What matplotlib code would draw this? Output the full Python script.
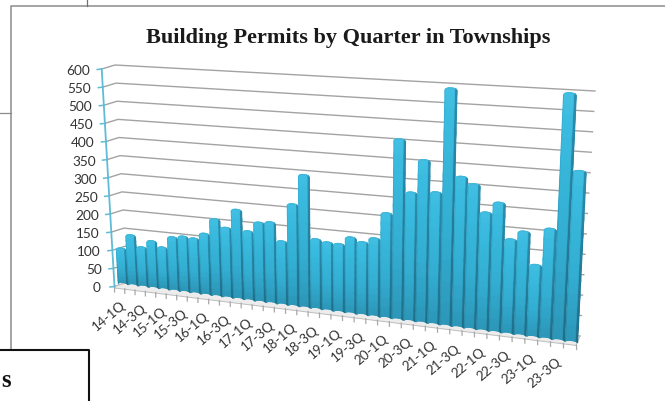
import numpy as np
import matplotlib
matplotlib.use("Agg")
import matplotlib.pyplot as plt
from matplotlib.colors import LinearSegmentedColormap

# ---- data ----
quarters = [f"{y}-{q}Q" for y in range(14, 24) for q in range(1, 5)]
permits = [100, 140, 110, 130, 116, 147, 152, 150, 166, 208,
           188, 239, 185, 211, 215, 168, 268, 347, 183, 178,
           177, 197, 188, 201, 268, 458, 326, 410, 332, 594,
           376, 360, 293, 320, 233, 255, 177, 268, 598, 413]
y_ticks = list(range(0, 601, 50))
title = "Building Permits by Quarter in Townships"

# ---- oblique-perspective scale of the chart ----
VMAX = 600.0
Q = 1.135
N = len(permits)

def s_of(t):
    return t / (t + (1 - t) * Q)

def lerp(a, b, f):
    return np.asarray(a) + (np.asarray(b) - np.asarray(a)) * f

# bar plane: base-left, top-left, base-right, top-right
BL, TL, BR, TR = (118, 284.5), (106, 67.5), (578, 344), (590.5, 94)

def bar_xy(t, v):
    s = np.asarray(s_of(t))
    f = np.asarray(v) / VMAX
    bx = BL[0] + (BR[0] - BL[0]) * s
    by = BL[1] + (BR[1] - BL[1]) * s
    tx = TL[0] + (TR[0] - TL[0]) * s
    ty = TL[1] + (TR[1] - TL[1]) * s
    return bx + (tx - bx) * f, by + (ty - by) * f

AX0, AX1 = (114.5, 287.5), (101.7, 70)      # front axis
WL0, WL1 = (127, 283.5), (115, 66)          # back wall, left
WR0, WR1 = (580, 337), (595, 92)            # back wall, right
FL, FR = (114.5, 287.5), (576.5, 345)       # floor front edge

fig = plt.figure(figsize=(6.65, 4.02), dpi=100)
ax = fig.add_axes([0, 0, 1, 1])
ax.set_xlim(0, 665)
ax.set_ylim(402, 0)
ax.axis("off")

# ---- surrounding page furniture ----
ax.plot([10.5, 10.5, 665], [350, 6.5, 6.5], color="#8c8c8c", lw=1.1, zorder=1)
ax.plot([87, 87], [0, 6.5], color="#707070", lw=0.9, zorder=1)
ax.plot([0, 10.5], [114, 114], color="#8c8c8c", lw=0.9, zorder=1)
ax.plot([0, 89, 89], [350.5, 350.5, 402], color="#111111", lw=1.5, zorder=1)
ax.text(1, 387, "s", family="Liberation Serif", weight="bold", fontsize=18,
        color="#111111", ha="left", va="baseline")

ax.text(348.5, 42.5, title, family="Liberation Serif", weight="bold", fontsize=16,
        color="#1a1a1a", ha="center", va="baseline")

# ---- gridlines and walls ----
for v in y_ticks:
    f = v / VMAX
    a, l, r = lerp(AX0, AX1, f), lerp(WL0, WL1, f), lerp(WR0, WR1, f)
    ax.plot([a[0], l[0], r[0]], [a[1], l[1], r[1]], color="#a3a3a3", lw=1.0,
            zorder=2, solid_joinstyle="round")
    ax.plot([a[0] - 4.5, a[0]], [a[1] + 0.5, a[1]], color="#5fbcd6", lw=1.1, zorder=3)
    ax.text(a[0] - 11.5 if v else a[0] - 14, a[1] + 1, str(v), family="Lato", fontsize=9.8,
            color="#333333", ha="right", va="center")
ax.plot([AX0[0], AX1[0]], [AX0[1], AX1[1]], color="#5fbcd6", lw=1.3, zorder=3)

# ---- floor ----
ax.fill([FL[0], WL0[0], WR0[0], FR[0], FR[0], FL[0]],
        [FL[1], WL0[1], WR0[1], FR[1], FR[1] + 1.5, FL[1] + 1.5],
        facecolor="#ececec", edgecolor="#bdbdbd", lw=0.7, zorder=2)

# ---- x ticks ----
for k in range(N + 1):
    s = s_of(k / N)
    p = lerp(FL, FR, s)
    ax.plot([p[0], p[0] + 0.1], [p[1] + 1, p[1] + 5.5], color="#a8a8a8", lw=0.9, zorder=2)

# ---- bars ----
cmap = LinearSegmentedColormap.from_list(
    "bar", ["#124e64", "#1f6f8a", "#2a8cac", "#33aed2", "#3abce0", "#6fd0ec"])
us = np.linspace(0, 1, 11)
HALF = 0.47
for i, val in enumerate(permits):
    t0 = (i + 0.5 - HALF) / N
    t1 = (i + 0.5 + HALF) / N
    ts = t0 + (t1 - t0) * us
    fv = np.linspace(0, 1, 12)
    X = np.zeros((len(fv), len(us)))
    Y = np.zeros_like(X)
    C = np.zeros_like(X)
    arch = np.sqrt(np.clip(1 - (2 * us - 1) ** 2, 0, 1))
    for j, f in enumerate(fv):
        x, y = bar_xy(ts, val * f)
        X[j] = x
        Y[j] = y + (1 - arch) * 2.2 * f - arch * 1.6 * (1 - f)
        vert = 0.6 + 0.4 * f
        for k, u in enumerate(us):
            if u > 0.8:
                across = 0.55
            elif u < 0.07:
                across = 0.82
            else:
                across = 1.0
            C[j, k] = np.clip((across * vert - 0.12) / 0.88, 0, 1) * 0.84
    ax.pcolormesh(X, Y, C, cmap=cmap, vmin=0, vmax=1, shading="gouraud", zorder=4 + i * 0.01)
    # rounded cap
    xc, yc = bar_xy(ts, val)
    cap_x = np.r_[xc, xc[::-1]]
    cap_y = np.r_[yc + (1 - arch) * 2.2 - arch * 0.3, (yc + (1 - arch) * 2.2 + arch * 0.9)[::-1]]
    ax.fill(cap_x, cap_y, color="#42b6d8", lw=0, zorder=4.5 + i * 0.01)

# ---- x labels ----
for i in range(0, N, 2):
    x, y = bar_xy(np.array((i + 0.5) / N), 0)
    ax.text(float(x) + 1, float(y) + 18.5, quarters[i], family="Lato", fontsize=9.6, color="#333333",
            rotation=40, rotation_mode="anchor", ha="right", va="center")

fig.savefig("out.png", dpi=100, facecolor="white")
